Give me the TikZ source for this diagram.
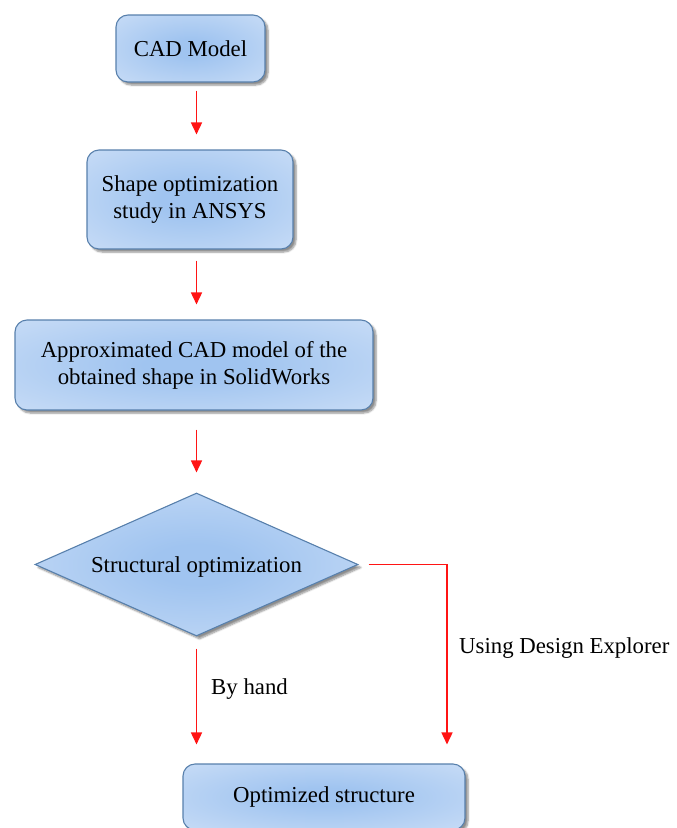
\documentclass[tikz,border=0pt]{standalone}
\usepackage{fontspec}
\setmainfont{Liberation Serif}
\usetikzlibrary{shapes.geometric,arrows.meta,shadows.blur,calc}
\definecolor{bordc}{RGB}{88,128,172}
\definecolor{inc}{RGB}{160,196,240}
\definecolor{outc}{RGB}{226,236,250}
\definecolor{arrc}{RGB}{255,20,20}
\pgfdeclareradialshading{boxshade}{\pgfpoint{0bp}{0bp}}{color(0bp)=(inc); color(7bp)=(inc); color(56bp)=(outc); color(100bp)=(outc)}
\tikzset{
  box/.style={draw=bordc, line width=1.1pt, rounded corners=12pt, shading=boxshade,
    align=center, inner sep=0pt,
    font=\fontsize{22.8}{27}\selectfont,
    blur shadow={shadow xshift=3pt, shadow yshift=-3pt, shadow blur steps=6, shadow opacity=45}},
  decision/.style={diamond, draw=bordc, line width=1.1pt, shading=boxshade,
    inner sep=0pt, aspect=2.26, text depth=0pt,
    font=\fontsize{22.8}{27}\selectfont,
    blur shadow={shadow xshift=3pt, shadow yshift=-3pt, shadow blur steps=6, shadow opacity=45}},
  arr/.style={draw=arrc, line width=1.6pt, -{Triangle[width=11pt,length=12pt]}},
  lbl/.style={font=\fontsize{22.8}{27}\selectfont, anchor=west, inner sep=0pt}
}
\begin{document}
\begin{tikzpicture}[x=1pt,y=-1pt]
\useasboundingbox (0,0) rectangle (677,828);
\node[box, minimum width=149pt, minimum height=67pt] (cad) at (190.5,48.5) {CAD Model};
\node[box, minimum width=206pt, minimum height=99pt] (shape) at (190,199.5) {Shape optimization\\study in ANSYS};
\node[box, minimum width=358pt, minimum height=90pt] (approx) at (194,365) {Approximated CAD model of the\\obtained shape in SolidWorks};
\node[decision, minimum width=323pt, minimum height=143pt] (dia) at (196.5,564.5) {Structural optimization};
\node[box, minimum width=282pt, minimum height=66pt] (opt) at (324,797) {Optimized structure};
\coordinate (ux) at (447,0);
\node[lbl] (byhand) at (211,689) {By hand};
\node[lbl] (usingde) at (459,648) {Using Design Explorer};

\draw[arr, shorten <=8pt, shorten >=15pt] (cad.south -| dia.center) -- (shape.north -| dia.center);
\draw[arr, shorten <=11pt, shorten >=15pt] (shape.south -| dia.center) -- (approx.north -| dia.center);
\draw[arr, shorten <=19pt, shorten >=20pt] (approx.south -| dia.center) -- (dia.north);
\draw[arr, shorten <=12pt, shorten >=19pt] (dia.south) -- (opt.north -| dia.center);
\draw[arr, shorten <=10pt, shorten >=19pt] (dia.east) -| (ux |- opt.north);
\end{tikzpicture}
\end{document}
